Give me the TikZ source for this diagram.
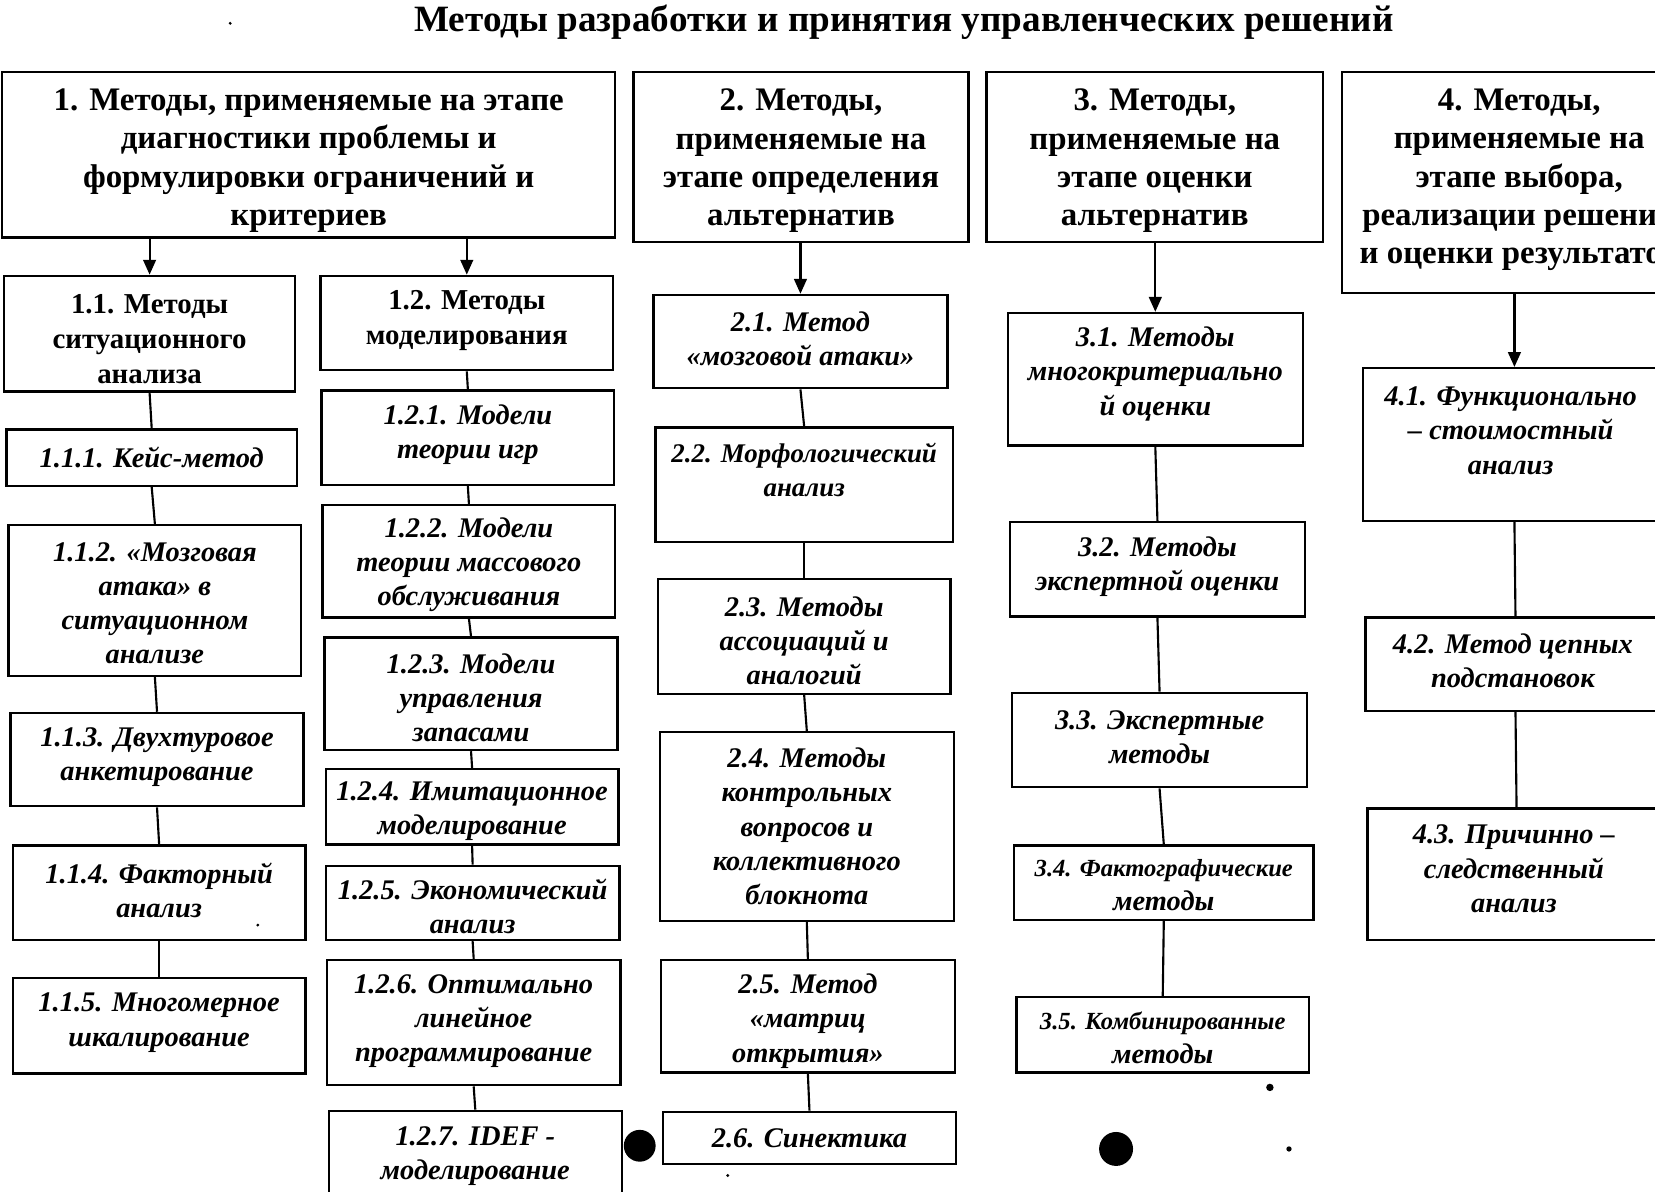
\documentclass[tikz,border=0pt]{standalone}
\usepackage{fontspec}
\setmainfont{Liberation Serif}
\usetikzlibrary{arrows.meta,fit}
\tikzset{
 boxst/.style={draw=black, line width=1.1pt, inner sep=0pt, fill=white},
 conn/.style={line width=1pt},
 arr/.style={line width=1pt, -{Triangle[length=7pt,width=6pt]}},
 toptxt/.style={inner sep=0pt, align=center, font=\bfseries\fontsize{15.5}{18}\selectfont},
 midtxt/.style={inner sep=0pt, align=center, font=\bfseries\fontsize{13.6}{16.5}\selectfont},
 leaftxt/.style={inner sep=0pt, align=center, font=\bfseries\itshape\fontsize{13.4}{16.1}\selectfont},
 titletxt/.style={inner sep=0pt, font=\bfseries\fontsize{17.5}{20}\selectfont},
 blot/.style={fill=black, draw=none},
}
\newcommand\mkbox[9]{%
  \node[boxst, fit={(#2,#3)(#4,#5)}] (#1) {};
  \node[#6] (#1t) at (#7,#8) {#9};
}
\newcommand\smallline[1]{{\fontsize{11.6}{16}\selectfont #1}}
\newcommand\midline[1]{{\fontsize{12.7}{15}\selectfont #1}}
\begin{document}
\begin{tikzpicture}[x=0.5pt,y=-0.5pt]
\useasboundingbox (0,0) rectangle (1560,1123);
\clip (0,0) rectangle (1560,1123);
\fill[white] (0,0) rectangle (1560,1123);

\node[titletxt] (title) at (852,21) {Методы разработки и принятия управленческих решений};

\mkbox{b1}{2}{68}{580}{224}{toptxt}{291}{151.5}{1. Методы, применяемые на этапе\\диагностики проблемы и\\формулировки ограничений и\\критериев}
\mkbox{b2}{597}{68}{913}{228}{toptxt}{755}{151.5}{2. Методы,\\применяемые на\\этапе определения\\альтернатив}
\mkbox{b3}{930}{68}{1247}{228}{toptxt}{1088.5}{151.5}{3. Методы,\\применяемые на\\этапе оценки\\альтернатив}
\mkbox{b4}{1265}{68}{1590}{276}{toptxt}{1432}{169.5}{4. Методы,\\применяемые на\\этапе выбора,\\реализации решений\\и оценки результатов}

\mkbox{b11}{4}{260}{278}{369}{midtxt}{141}{319.5}{1.1. Методы\\ситуационного\\анализа}
\mkbox{b111}{6}{405}{280}{458}{leaftxt}{143}{431}{1.1.1. Кейс-метод}
\mkbox{b112}{8}{495}{284}{637}{leaftxt}{146}{568.5}{1.1.2. «Мозговая\\атака» в\\ситуационном\\анализе}
\mkbox{b113}{10}{672}{286}{760}{leaftxt}{148}{714}{1.1.3. Двухтуровое\\анкетирование}
\mkbox{b114}{12}{797}{288}{886}{leaftxt}{150}{839}{1.1.4. Факторный\\анализ}
\mkbox{b115}{12}{922}{288}{1012}{leaftxt}{150}{964}{1.1.5. Многомерное\\шкалирование}

\mkbox{b12}{302}{260}{578}{349}{midtxt}{440}{302.5}{1.2. Методы\\моделирования}
\mkbox{b121}{303}{368}{579}{457}{leaftxt}{441}{409.5}{1.2.1. Модели\\теории игр}
\mkbox{b122}{304}{476}{580}{582}{leaftxt}{442}{532.5}{1.2.2. Модели\\теории массового\\обслуживания}
\mkbox{b123}{306}{601}{582}{707}{leaftxt}{444}{658}{1.2.3. Модели\\управления\\запасами}
\mkbox{b124}{307}{725}{583}{796}{leaftxt}{445}{764.5}{1.2.4. Имитационное\\моделирование}
\mkbox{b125}{307}{816}{584}{886}{leaftxt}{445.5}{854}{1.2.5. Экономический\\анализ}
\mkbox{b126}{308}{905}{585}{1023}{leaftxt}{446.5}{962.5}{1.2.6. Оптимально\\линейное\\программирование}
\mkbox{b127}{310}{1047}{586}{1140}{leaftxt}{448}{1089.5}{1.2.7. IDEF -\\моделирование}

\mkbox{b21}{616}{278}{893}{366}{leaftxt}{754.5}{319.5}{2.1. Метод\\«мозговой атаки»}
\mkbox{b22}{618}{403}{898}{511}{leaftxt}{758}{443}{\midline{2.2. Морфологический}\\\midline{анализ}}
\mkbox{b23}{620}{546}{896}{654}{leaftxt}{758}{604}{2.3. Методы\\ассоциаций и\\аналогий}
\mkbox{b24}{622}{690}{899}{868}{leaftxt}{760.5}{779}{2.4. Методы\\контрольных\\вопросов и\\коллективного\\блокнота}
\mkbox{b25}{623}{905}{900}{1011}{leaftxt}{761.5}{962.5}{2.5. Метод\\«матриц\\открытия»}
\mkbox{b26}{625}{1048}{901}{1097}{leaftxt}{763}{1073}{2.6. Синектика}

\mkbox{b31}{950}{295}{1228}{420}{leaftxt}{1089}{352.5}{3.1. Методы\\многокритериально\\й оценки}
\mkbox{b32}{952}{492}{1230}{581}{leaftxt}{1091}{534}{3.2. Методы\\экспертной оценки}
\mkbox{b33}{954}{653}{1232}{742}{leaftxt}{1093}{695}{3.3. Экспертные\\методы}
\mkbox{b34}{956}{797}{1238}{867}{leaftxt}{1097}{834.5}{\smallline{3.4. Фактографические}\\методы}
\mkbox{b35}{958}{940}{1234}{1011}{leaftxt}{1096}{978}{\smallline{3.5. Комбинированные}\\методы}

\mkbox{b41}{1285}{347}{1570}{491}{leaftxt}{1424}{406}{4.1. Функционально\\– стоимостный\\анализ}
\mkbox{b42}{1287}{582}{1570}{670}{leaftxt}{1426}{623}{4.2. Метод цепных\\подстановок}
\mkbox{b43}{1289}{762}{1570}{886}{leaftxt}{1427}{819}{4.3. Причинно –\\следственный\\анализ}

% arrows from stage boxes
\draw[arr] (b11.north |- b1.south) -- (b11.north);
\draw[arr] (b12.north |- b1.south) -- (b12.north);
\draw[arr] (b21.north |- b2.south) -- (b21.north);
\draw[arr] (b31.north |- b3.south) -- (b31.north);
\draw[arr] (b4.south) -- (b4.south |- b41.north);

% chains
\draw[conn] (b11.south) -- (b111.north);
\draw[conn] (b111.south) -- (b112.north);
\draw[conn] (b112.south) -- (b113.north);
\draw[conn] (b113.south) -- (b114.north);
\draw[conn] (b114.south) -- (b115.north);

\draw[conn] (b12.south) -- (b121.north);
\draw[conn] (b121.south) -- (b122.north);
\draw[conn] (b122.south) -- (b123.north);
\draw[conn] (b123.south) -- (b124.north);
\draw[conn] (b124.south) -- (b125.north);
\draw[conn] (b125.south) -- (b126.north);
\draw[conn] (b126.south) -- (b127.north);

\draw[conn] (b21.south) -- (b22.north);
\draw[conn] (b22.south) -- (b23.north);
\draw[conn] (b23.south) -- (b24.north);
\draw[conn] (b24.south) -- (b25.north);
\draw[conn] (b25.south) -- (b26.north);

\draw[conn] (b31.south) -- (b32.north);
\draw[conn] (b32.south) -- (b33.north);
\draw[conn] (b33.south) -- (b34.north);
\draw[conn] (b34.south) -- (b35.north);

\draw[conn] (b41.south) -- (b42.north);
\draw[conn] (b42.south) -- (b43.north);

% scan blots
\fill[blot] (603,1080) circle (15);
\fill[blot] (1052,1083) circle (16);
\fill[blot] (1197,1025) circle (3.5);
\fill[blot] (1215,1083) circle (2.5);
\fill[blot] (686,1108) circle (1.5);
\fill[blot] (243,872) circle (1.5);
\fill[blot] (217,22) circle (1.5);
\end{tikzpicture}
\end{document}
